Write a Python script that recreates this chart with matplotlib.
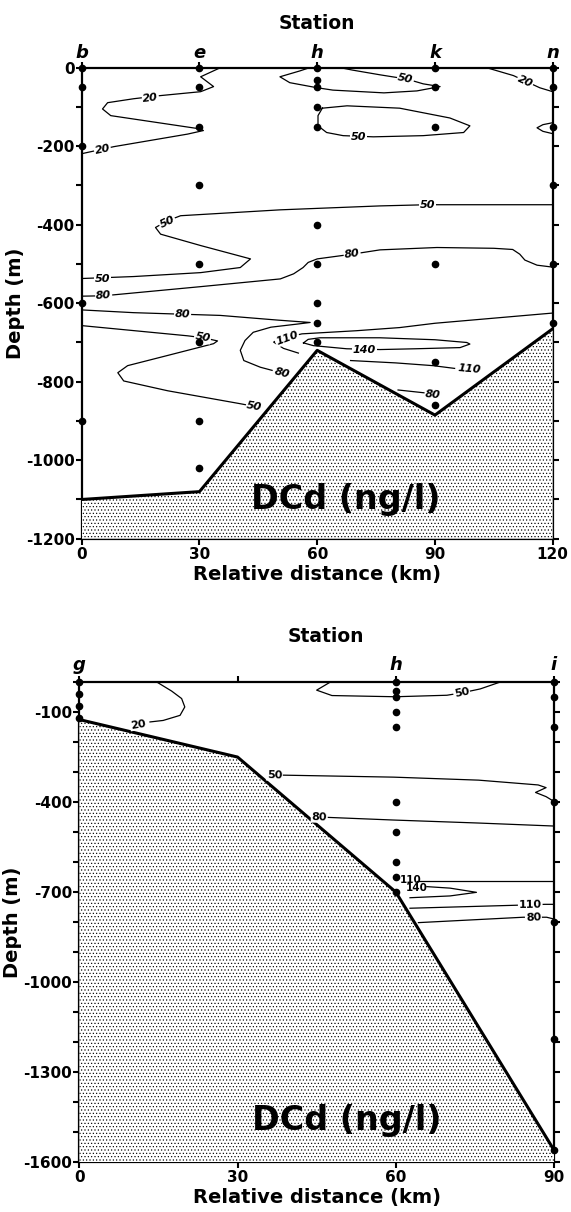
import numpy as np
import matplotlib.pyplot as plt
from matplotlib.ticker import MultipleLocator, FixedLocator

plt.rcParams['font.family'] = 'DejaVu Sans'
plt.rcParams['font.weight'] = 'bold'
plt.rcParams['axes.unicode_minus'] = False
plt.rcParams['hatch.linewidth'] = 0.45

# ---------------- upper section: stations b - n ----------------
top_stations = ['b', 'e', 'h', 'k', 'n']
top_station_km = [0, 30, 60, 90, 120]
samples_b = [0, -50, -200, -600, -900]
samples_e = [0, -50, -150, -300, -500, -700, -900, -1020]
samples_h = [0, -30, -50, -100, -150, -400, -500, -600, -650, -700]
samples_k = [0, -50, -150, -500, -750, -860]
samples_n = [0, -50, -150, -300, -500, -650]
top_samples = [samples_b, samples_e, samples_h, samples_k, samples_n]

top_bathy_km = [0, 30, 60, 90, 120]
top_bathy_depth = [-1100, -1080, -720, -885, -665]

# isolines (km, depth)
t_iso20_a = ([35.3, 30.3, 33.6, 30.3, 20, 13.2, 6.6, 5.3, 7.4, 30.3, 31, 27, 8.2, 0],
             [0, -23, -48, -61, -71, -79, -89, -105, -122, -156, -160, -169, -201, -219])
t_iso20_b = ([103.2, 110, 116.7, 120], [0, -20, -51, -61])
t_iso50_a = ([58, 55.6, 50.5, 53, 60, 64, 77, 85.4, 91.3, 87, 82.9, 76, 69, 66],
             [0, -8, -23, -38, -51, -57, -64, -59, -48, -41, -29, -18, -6, 0])
t_iso50_b = ([61.3, 67.6, 81, 93.8, 98.9, 97.3, 87, 74.3, 66.6, 62.4, 60.2, 60.2, 61.3],
             [-103, -97, -103, -128, -148, -165, -173, -176, -173, -165, -148, -122, -103])
t_iso50_c = ([120, 117.5, 116, 117.5, 120], [-140, -145, -153, -162, -168])
t_iso50_d = ([120, 88, 76, 50.6, 25.2, 21.8, 18.8, 20.1, 30.3, 43, 40.4, 30.3, 13.2, 0],
             [-349, -349, -352, -362, -377, -390, -407, -424, -453, -487, -509, -522, -532, -537])
t_iso80_a = ([0, 5.6, 30, 50.6, 54, 56.4, 57.7, 60, 68.9, 76, 90.5, 105, 109.8, 111.6, 112.9, 116, 120],
             [-582, -581, -558, -538, -525, -509, -496, -487, -475, -464, -458, -460, -463, -475, -490, -503, -508])
t_iso80_b = ([0, 13.2, 25.7, 35.3, 50, 58.2, 55, 48.2, 43.7, 41.6, 40.4, 41.3, 45.5, 48.5],
             [-617, -624, -628, -631, -643, -649, -653, -661, -674, -695, -720, -746, -763, -771])
t_iso110_a = ([55.2, 51.4, 48.9, 50.5, 52.8, 56.1, 70, 81, 90, 105, 120],
              [-727, -715, -699, -690, -686, -678, -670, -662, -651, -638, -625])
t_iso140 = ([56.5, 57.7, 60.7, 76, 90, 98.1, 98.9, 96.4, 85, 76, 67.5, 59, 56.5],
            [-701, -692, -688, -688, -693, -700, -704, -713, -716, -718, -716, -708, -701])
t_iso110_b = ([68.5, 80, 89.5, 95], [-746, -752, -759, -766])
t_iso80_c = ([80.6, 88], [-821, -829])
t_iso50_e = ([0, 27, 31, 34.6, 33.6, 21.9, 11.7, 9.2, 10.7, 21.9, 40.4, 43],
             [-657, -683, -688, -696, -703, -733, -759, -777, -798, -823, -856, -861])
top_isolines = [t_iso20_a, t_iso20_b, t_iso50_a, t_iso50_b, t_iso50_c, t_iso50_d,
                t_iso80_a, t_iso80_b, t_iso110_a, t_iso140, t_iso110_b, t_iso80_c, t_iso50_e]

# ---------------- lower section: stations g - i ----------------
bot_stations = ['g', 'h', 'i']
bot_station_km = [0, 60, 90]
samples_g = [0, -40, -80, -120]
samples_h2 = [0, -30, -50, -100, -150, -400, -500, -600, -650, -700]
samples_i = [0, -50, -150, -400, -800, -1190, -1560]
bot_samples = [samples_g, samples_h2, samples_i]

bot_bathy_km = [0, 30, 60, 90]
bot_bathy_depth = [-125, -250, -700, -1560]

b_iso20 = ([14.7, 17.5, 19.4, 20, 19.1, 15.9, 13.4], [0, -30, -55, -83, -111, -128, -133])
b_iso50_a = ([47.6, 45, 47.9, 59.9, 69.7, 72.5, 76, 79.8], [0, -27, -45, -49, -44, -36, -23, 0])
b_iso50_b = ([37.5, 59.6, 75.7, 87, 88.5, 86.5, 88.5, 90],
             [-310, -317, -327, -343, -352, -368, -382, -398])
b_iso80_a = ([45.5, 59.6, 75.7, 90], [-450, -460, -470, -480])
b_iso110_a = ([64, 90], [-663, -663])
b_iso140 = ([65.9, 70.3, 75.3, 70.3, 62.7], [-682, -687, -701, -713, -719])
b_iso110_b = ([62.7, 82.9, 88.3, 90], [-754, -744, -741, -741])
b_iso80_b = ([64.3, 84.2, 88.6, 90], [-802, -784, -784, -790])
bot_isolines = [b_iso20, b_iso50_a, b_iso50_b, b_iso80_a, b_iso110_a, b_iso140, b_iso110_b, b_iso80_b]

# label text, km, depth, rotation
top_labels = [('20', 17.5, -76, 7), ('20', 5.3, -209, 12), ('20', 113, -34, -25),
              ('50', 82.5, -28, -12), ('50', 70.5, -176, 0), ('50', 88, -349, 0),
              ('50', 21.8, -393, 25), ('50', 5.3, -537, 0), ('80', 5.6, -581, 4),
              ('80', 68.9, -475, 8), ('80', 25.7, -628, -2), ('80', 51, -778, -15),
              ('110', 52.3, -689, 20), ('140', 72, -718, 0), ('110', 98.8, -768, -5),
              ('80', 89.5, -832, -5), ('50', 30.8, -687, -10), ('50', 44, -862, -10)]
bot_labels = [('20', 11.2, -141, 9), ('50', 72.5, -36, 11), ('50', 37, -310, -2),
              ('80', 45.5, -450, -2), ('110', 85.5, -741, 1), ('80', 86.1, -784, 3)]
bot_labels_plain = [('110', 62.9, -660, 0), ('140', 64.0, -686, 0)]


def style_axes(ax):
    for s in ax.spines.values():
        s.set_linewidth(1.6)
    ax.tick_params(which='both', direction='out', length=4, width=1.5,
                   top=True, right=True, labelsize=11)
    ax.tick_params(axis='x', pad=2)
    ax.tick_params(axis='y', pad=1)
    ax.set_xlabel('Relative distance (km)', fontsize=14, fontweight='bold', labelpad=2)
    ax.set_ylabel('Depth (m)', fontsize=14, fontweight='bold', labelpad=1)


def draw_section(ax, isolines, bathy_km, bathy_depth, ymin, st_names, st_km, samples,
                 labels, italic, st_y, title_x):
    for km, dep in isolines:
        ax.plot(km, dep, color='black', lw=0.9, zorder=2)
    ax.fill_between(bathy_km, bathy_depth, ymin, facecolor='white', edgecolor='black',
                    hatch='.....', linewidth=0, zorder=3)
    ax.plot(bathy_km, bathy_depth, color='black', lw=2.2, zorder=4)
    for km, deps in zip(st_km, samples):
        ax.plot([km] * len(deps), deps, 'o', color='black', ms=4.5, clip_on=False, zorder=6)
    for txt, x, y, rot in labels:
        ax.text(x, y, txt, fontsize=8, fontweight='bold',
                fontstyle='italic' if italic else 'normal', rotation=rot,
                ha='center', va='center', zorder=5,
                bbox=dict(facecolor='white', edgecolor='none', pad=0.6))
    for name, km in zip(st_names, st_km):
        ax.text(km, st_y, name, transform=ax.get_xaxis_transform(), ha='center',
                va='center', fontsize=13, fontweight='bold', fontstyle='italic')
    ax.text(title_x, 1.095, 'Station', transform=ax.transAxes, ha='center',
            va='center', fontsize=13.5, fontweight='bold')


fig = plt.figure(figsize=(5.71, 12.12), dpi=100)
ax1 = fig.add_axes([0.1431, 0.5555, 0.8249, 0.3886])
ax2 = fig.add_axes([0.1389, 0.04125, 0.8313, 0.3960])

# upper panel
draw_section(ax1, top_isolines, top_bathy_km, top_bathy_depth, -1200, top_stations,
             top_station_km, top_samples, top_labels, True, 1.032, 0.5)
ax1.set_xlim(0, 120)
ax1.set_ylim(-1200, 0)
ax1.set_xticks(top_station_km)
ax1.yaxis.set_major_locator(MultipleLocator(200))
ax1.yaxis.set_minor_locator(MultipleLocator(100))
style_axes(ax1)
ax1.text(67.3, -1101, 'DCd (ng/l)', fontsize=24, fontweight='bold', ha='center',
         va='center', zorder=5)

# lower panel
draw_section(ax2, bot_isolines, bot_bathy_km, bot_bathy_depth, -1600, bot_stations,
             bot_station_km, bot_samples, bot_labels, False, 1.035, 0.52)
for txt, x, y, rot in bot_labels_plain:
    ax2.text(x, y, txt, fontsize=7.5, fontweight='bold', ha='center', va='center', zorder=5)
ax2.set_xlim(0, 90)
ax2.set_ylim(-1600, 0)
ax2.set_xticks([0, 30, 60, 90])
ax2.yaxis.set_major_locator(FixedLocator([-1600, -1300, -1000, -700, -400, -100]))
ax2.yaxis.set_minor_locator(MultipleLocator(100))
style_axes(ax2)
ax2.text(50.8, -1460, 'DCd (ng/l)', fontsize=24, fontweight='bold', ha='center',
         va='center', zorder=5)

fig.savefig('out.png', dpi=100)
